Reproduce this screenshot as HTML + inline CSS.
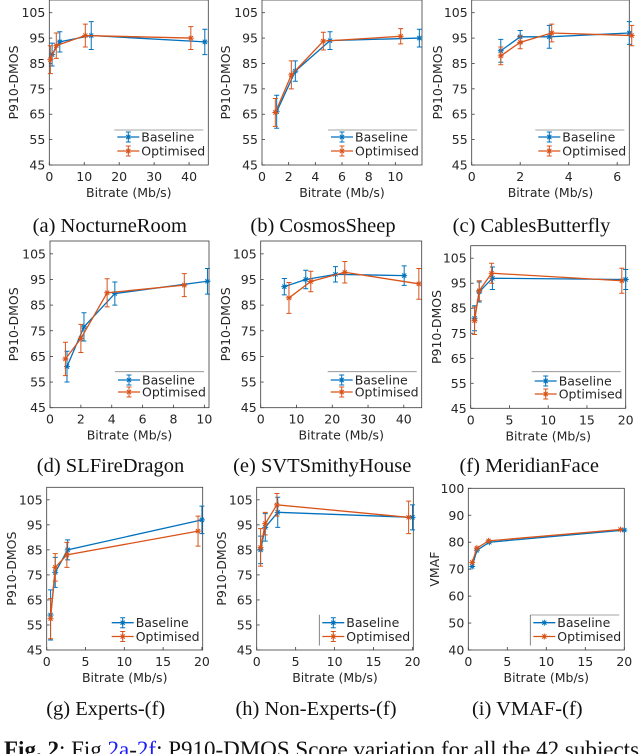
<!DOCTYPE html>
<html><head><meta charset="utf-8">
<style>
html,body{margin:0;padding:0;background:#fff;}
svg{display:block;}
.tk{font-family:"DejaVu Sans","Liberation Sans",sans-serif;font-size:12.5px;fill:#262626;}
.cap{font-family:"Liberation Serif",serif;font-size:20.5px;fill:#111;}
</style></head>
<body>
<svg id="fig" width="640" height="754" viewBox="0 0 640 754" xmlns="http://www.w3.org/2000/svg">
<text x="4" y="757" style="font-family:'Liberation Serif',serif;font-size:23px;fill:#111"><tspan font-weight="bold">Fig. 2</tspan>: Fig <tspan fill="#1a1aff">2a</tspan>-<tspan fill="#1a1aff">2f</tspan>: P910-DMOS Score variation for all the 42 subjects</text>
</svg>
<script>
// ---- data ----
const aBaseX=[0.8,3,12,44.5], aBaseY=[88.5,93.5,96,93.5], aBaseE=[4.5,4,5.5,5];
const aOptX=[0.3,2,10.3,40.5], aOptY=[86.5,92,96,95], aOptE=[5.5,5,4.5,4.5];
const bBaseX=[1.1,2.5,5.1,11.8], bBaseY=[66,82,94,95], bBaseE=[6.5,4,3.5,3.5];
const bOptX=[1,2.2,4.6,10.4], bOptY=[65.7,80.5,93.8,95.7], bOptE=[5.5,5.5,3.5,3];
const cBaseX=[1.2,2,3.2,6.5], cBaseY=[90,95.5,95.5,97], cBaseE=[4.5,2.5,4.5,4.5];
const cOptX=[1.2,2,3.3,6.6], cOptY=[88,93.3,97,96], cOptE=[3.5,2.5,3.5,4];
const dBaseX=[1.1,2.2,4.2,10.2], dBaseY=[61,76.5,89.5,94.3], dBaseE=[6,5.5,4.5,5];
const dOptX=[1,2,3.7,8.7], dOptY=[64,72,89.8,92.8], dOptE=[6.5,5.5,5.5,4.5];
const eBaseX=[6.6,12.6,20.9,40.1], eBaseY=[92.2,95,97,96.5], eBaseE=[3.2,3.6,3,3.8];
const eOptX=[7.9,14,23.5,44.2], eOptY=[87.8,94.2,97.8,93.3], eOptE=[6,4,4.2,6];
const fBaseX=[0.5,1.1,2.8,20], fBaseY=[81,91.5,97,96.5], fBaseE=[5,4,4.5,4];
const fOptX=[0.5,1.1,2.7,19.5], fOptY=[80,92,99,96], fOptE=[5.5,4,4,5];
const gBaseX=[0.5,1.1,2.7,20], gBaseY=[59,76,85,97], gBaseE=[10,6,4,5.5];
const gOptX=[0.5,1.1,2.6,19.5], gOptY=[57.5,78,83,92.5], gOptE=[8,5.5,5,6];
const hBaseX=[0.5,1.1,2.7,20], hBaseY=[85,94,100,98], hBaseE=[5.5,5.5,6,5];
const hOptX=[0.5,1.1,2.6,19.5], hOptY=[86,95.5,103,98], hOptE=[7.5,4.5,4.5,6.5];
const iBaseX=[0.5,1.1,2.7,20], iBaseY=[71,77,80,84.5];
const iOptX=[0.5,1.1,2.6,19.5], iOptY=[72.5,77.8,80.5,84.7];
const dmosTicks=[45,55,65,75,85,95,105];
const vmafTicks=[40,50,60,70,80,90,100];
const xTicksA=[0,10,20,30,40], xTicksB=[0,2,4,6,8,10], xTicksC=[0,2,4,6], xTicksD=[0,2,4,6,8,10], xTicksE=[0,10,20,30,40], xTicks20=[0,5,10,15,20];
const seriesNames=["Baseline","Optimised"];
const captions=["(a) NocturneRoom","(b) CosmosSheep","(c) CablesButterfly","(d) SLFireDragon","(e) SVTSmithyHouse","(f) MeridianFace","(g) Experts-(f)","(h) Non-Experts-(f)","(i) VMAF-(f)"];

const NS="http://www.w3.org/2000/svg";
const svg=document.getElementById('fig');
const BLUE="#0072BD", ORANGE="#D95319";
function mk(tag,attrs,parent){const e=document.createElementNS(NS,tag);for(const k in attrs)e.setAttribute(k,attrs[k]);(parent||svg).appendChild(e);return e;}

const panels=[
 {id:'a',L:49.3,R:208.3,T:0,B:165,xmax:45.5,ymin:45,ymax:110,yt:dmosTicks,xt:xTicksA,xl:"Bitrate (Mb/s)",yl:"P910-DMOS",ylx:13,cap:captions[0],capY:232,leg:{top:130,y1:137,y2:151},d:[aBaseX,aBaseY,aBaseE,aOptX,aOptY,aOptE]},
 {id:'b',L:262,R:422,T:0,B:165,xmax:12,ymin:45,ymax:110,yt:dmosTicks,xt:xTicksB,xl:"Bitrate (Mb/s)",yl:"P910-DMOS",ylx:225,cap:captions[1],capY:232,leg:{top:130,y1:137,y2:151},d:[bBaseX,bBaseY,bBaseE,bOptX,bOptY,bOptE]},
 {id:'c',L:471.7,R:629.3,T:0,B:165,xmax:6.5,ymin:45,ymax:110,yt:dmosTicks,xt:xTicksC,xl:"Bitrate (Mb/s)",yl:"P910-DMOS",ylx:437,cap:captions[2],capY:232,leg:{top:130,y1:137,y2:151},d:[cBaseX,cBaseY,cBaseE,cOptX,cOptY,cOptE]},
 {id:'d',L:50,R:209,T:241,B:407.7,xmax:10.3,ymin:45,ymax:110,yt:dmosTicks,xt:xTicksD,xl:"Bitrate (Mb/s)",yl:"P910-DMOS",ylx:13,cap:captions[3],capY:472,leg:{top:371.7,y1:380,y2:392},d:[dBaseX,dBaseY,dBaseE,dOptX,dOptY,dOptE]},
 {id:'e',L:260.7,R:421.7,T:241,B:407.7,xmax:45,ymin:45,ymax:110,yt:dmosTicks,xt:xTicksE,xl:"Bitrate (Mb/s)",yl:"P910-DMOS",ylx:225,cap:captions[4],capY:472,leg:{top:371.7,y1:380,y2:392},d:[eBaseX,eBaseY,eBaseE,eOptX,eOptY,eOptE]},
 {id:'f',L:470.7,R:625.7,T:245.7,B:408.3,xmax:20,ymin:45,ymax:110,yt:dmosTicks,xt:xTicks20,xl:"Bitrate (Mb/s)",yl:"P910-DMOS",ylx:436,cap:captions[5],capY:472,leg:{top:371.7,y1:381,y2:394},d:[fBaseX,fBaseY,fBaseE,fOptX,fOptY,fOptE]},
 {id:'g',L:46.7,R:202.7,T:487.3,B:650,xmax:20.1,ymin:45,ymax:110,yt:dmosTicks,xt:xTicks20,xl:"Bitrate (Mb/s)",yl:"P910-DMOS",ylx:11,cap:captions[6],capY:715,leg:{top:null,y1:622.7,y2:636.5},d:[gBaseX,gBaseY,gBaseE,gOptX,gOptY,gOptE]},
 {id:'h',L:256.7,R:413.3,T:487.3,B:650,xmax:20.1,ymin:45,ymax:110,yt:dmosTicks,xt:xTicks20,xl:"Bitrate (Mb/s)",yl:"P910-DMOS",ylx:221,cap:captions[7],capY:715,leg:{top:null,left:true,y1:622.7,y2:636.5},d:[hBaseX,hBaseY,hBaseE,hOptX,hOptY,hOptE]},
 {id:'i',L:468.3,R:624.3,T:488.3,B:650,xmax:20,ymin:40,ymax:100,yt:vmafTicks,xt:xTicks20,xl:"Bitrate (Mb/s)",yl:"VMAF",ylx:434,cap:captions[8],capY:715,leg:{top:615,left:true,box:true,y1:622.7,y2:636.5},d:[iBaseX,iBaseY,null,iOptX,iOptY,null],star:true}
];

function star(g,x,y,c){
  const s=3;
  mk('path',{d:`M${x-s},${y}H${x+s}M${x},${y-s}V${y+s}M${x-s*0.7},${y-s*0.7}L${x+s*0.7},${y+s*0.7}M${x-s*0.7},${y+s*0.7}L${x+s*0.7},${y-s*0.7}`,stroke:c,'stroke-width':1,fill:'none'},g);
}

panels.forEach(p=>{
  const g=mk('g',{});
  
  
  const xs=v=>p.L+(v/p.xmax)*(p.R-p.L);
  const ys=v=>p.B-(v-p.ymin)/(p.ymax-p.ymin)*(p.B-p.T);
  const box=mk('rect',{x:p.L,y:p.T,width:p.R-p.L,height:p.B-p.T,fill:'#fff',stroke:'#3a3a3a','stroke-width':0.8},g);
  
  
  p.yt.forEach(v=>{
    const y=ys(v);
    mk('line',{x1:p.L,x2:p.L+3,y1:y,y2:y,stroke:'#3a3a3a','stroke-width':0.8},g);
    const t=mk('text',{x:p.L-4,y:y+4.5,'text-anchor':'end',class:'tk'},g);t.textContent=v;
    
    
  });
  p.xt.forEach(v=>{
    const x=xs(v);
    mk('line',{x1:x,x2:x,y1:p.B,y2:p.B-3,stroke:'#3a3a3a','stroke-width':0.8},g);
    const t=mk('text',{x:x,y:p.B+16,'text-anchor':'middle',class:'tk'},g);t.textContent=v;
    
    
  });
  const xl=mk('text',{x:(p.L+p.R)/2,y:p.B+32,'text-anchor':'middle',class:'tk','font-size':'13'},g);xl.textContent=p.xl;
  
  
  const yc=(p.T+p.B)/2;
  const yl=mk('text',{x:p.ylx+5,y:yc,'text-anchor':'middle',class:'tk','font-size':'13',transform:`rotate(-90 ${p.ylx+5} ${yc})`},g);yl.textContent=p.yl;
  
  
  const cp=mk('text',{x:(p.L+p.R)/2-19,y:p.capY,'text-anchor':'middle',class:'cap'},g);cp.textContent=p.cap;
  
  
  const colors=[BLUE,ORANGE];
  for(let s=0;s<2;s++){
    const X=p.d[s*3],Y=p.d[s*3+1],E=p.d[s*3+2],c=colors[s];
    const sg=mk('g',{},g);
    
    
    mk('polyline',{points:X.map((v,i)=>xs(v)+','+ys(Y[i])).join(' '),fill:'none',stroke:c,'stroke-width':1.3},sg);
    X.forEach((v,i)=>{
      const x=xs(v),y=ys(Y[i]);
      if(E){
        const y1=ys(Y[i]+E[i]),y2=ys(Y[i]-E[i]);
        const eb=mk('path',{d:`M${x},${y1}V${y2}M${x-2.5},${y1}H${x+2.5}M${x-2.5},${y2}H${x+2.5}`,stroke:c,'stroke-width':1,fill:'none'},sg);
        
        
      }
      star(sg,x,y,c);
    });
  }
  const lg=mk('g',{},g);
  
  
  const lx=p.R-91;
  if(p.leg.top!==null) mk('line',{x1:lx-3,x2:p.R-5,y1:p.leg.top,y2:p.leg.top,stroke:'#888','stroke-width':0.8},lg);
  if(p.leg.left) mk('line',{x1:lx-3,x2:lx-3,y1:(p.leg.top||p.leg.y1-8),y2:p.leg.y2+9,stroke:'#666','stroke-width':0.8},lg);
  [p.leg.y1,p.leg.y2].forEach((yy,s)=>{
    const c=colors[s];
    mk('line',{x1:lx,x2:lx+22,y1:yy,y2:yy,stroke:c,'stroke-width':1.3},lg);
    if(!p.star) mk('path',{d:`M${lx+11},${yy-5}V${yy+5}M${lx+8.5},${yy-5}H${lx+13.5}M${lx+8.5},${yy+5}H${lx+13.5}`,stroke:c,'stroke-width':1,fill:'none'},lg);
    star(lg,lx+11,yy,c);
    const t=mk('text',{x:lx+24,y:yy+4.5,class:'tk','font-size':'13'},lg);t.textContent=seriesNames[s];
    
    
  });
});
</script>
</body></html>
